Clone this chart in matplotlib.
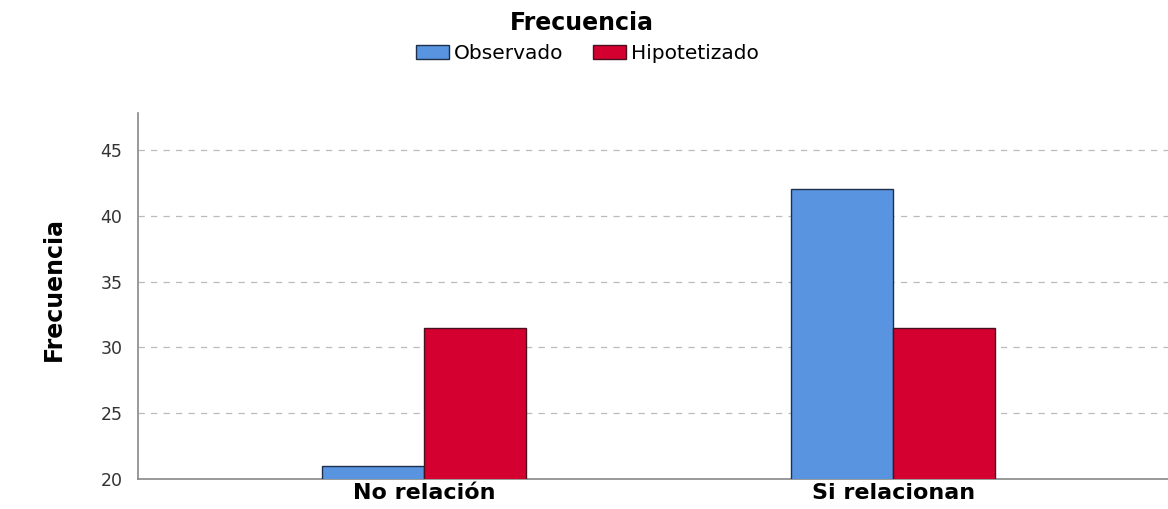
import matplotlib.pyplot as plt
import numpy as np

# -----------------------------
# Data
# -----------------------------
categories = ["No relación", "Si relacionan"]
observado = [21, 42]
hipotetizado = [31.5, 31.5]
series_names = ["Observado", "Hipotetizado"]
yticks = [20, 25, 30, 35, 40, 45]

blue = "#5894e0"
red = "#d40030"
font = "DejaVu Sans"

# -----------------------------
# Figure
# -----------------------------
fig = plt.figure(figsize=(11.68, 5.09), dpi=100)
ax = fig.add_axes([0.118, 0.059, 0.882, 0.719])

x = np.arange(len(categories))
w = 0.218
b1 = ax.bar(x - w / 2, observado, w, color=blue, edgecolor="#1f2f4a",
            linewidth=1, zorder=3, label=series_names[0])
b2 = ax.bar(x + w / 2, hipotetizado, w, color=red, edgecolor="#4a1020",
            linewidth=1, zorder=3, label=series_names[1])

ax.set_ylim(20, 47.8)
ax.set_xlim(-0.61, 1.586)
ax.set_yticks(yticks)
ax.set_yticklabels([str(t) for t in yticks], fontsize=12.5, color="#333333",
                   family=font)
ax.set_xticks(x)
ax.set_xticklabels(categories, fontsize=16, fontweight="bold", family=font)
ax.tick_params(axis="y", length=0, pad=11)
ax.tick_params(axis="x", length=0, pad=3)

ax.grid(axis="y", linestyle=(0, (5, 5)), color="#bbbbbb", linewidth=0.9, zorder=0)
for s in ["top", "right"]:
    ax.spines[s].set_visible(False)
for s in ["left", "bottom"]:
    ax.spines[s].set_color("#888888")
    ax.spines[s].set_linewidth(1.2)

ax.set_ylabel("Frecuencia", fontsize=17, fontweight="bold", family=font)
ax.yaxis.set_label_coords(-0.07, 0.52)

fig.text(0.498, 0.955, "Frecuencia", ha="center", va="center", fontsize=17,
         fontweight="bold", family=font)
fig.legend(handles=[b1, b2], labels=series_names, loc="center",
           bbox_to_anchor=(0.503, 0.895), ncol=2, frameon=False,
           prop={"family": font, "size": 14.5},
           handlelength=1.6, handleheight=0.75, handletextpad=0.25,
           columnspacing=1.5, borderaxespad=0)

fig.savefig("out.png", dpi=100)
